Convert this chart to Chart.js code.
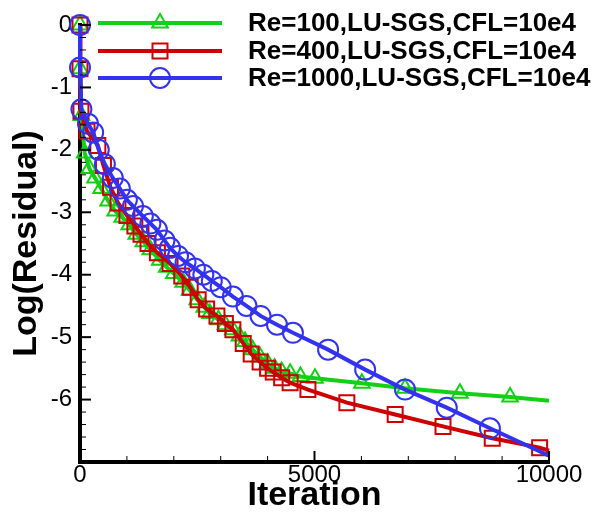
<!DOCTYPE html>
<html>
<head>
<meta charset="utf-8">
<script src="https://cdn.jsdelivr.net/npm/chart.js@4/dist/chart.umd.min.js"></script>
<style>
  html, body { margin: 0; padding: 0; background: #fff; }
  #wrap { width: 610px; height: 513px; position: relative; }
</style>
</head>
<body>
<div id="wrap"><canvas id="chart"></canvas></div>
<script>
// series data (iteration, log residual)
const seriesLabels = [
    "Re=100,LU-SGS,CFL=10e4",
    "Re=400,LU-SGS,CFL=10e4",
    "Re=1000,LU-SGS,CFL=10e4"
];

const re100Iter = [0, 0, 30, 100, 200, 320, 450, 600, 750, 900, 1050, 1200, 1350, 1500, 1700, 1850, 2000, 2200, 2340, 2500, 2650, 2770, 2950, 3100, 3260, 3400, 3520, 3680, 3840, 4000, 4150, 4300, 4480, 4700, 5010, 6010, 6930, 8100, 9170, 10000];
const re100Res = [0, -0.7, -1.45, -2.05, -2.3, -2.45, -2.62, -2.82, -2.98, -3.08, -3.2, -3.35, -3.47, -3.6, -3.77, -3.88, -3.98, -4.12, -4.25, -4.4, -4.52, -4.62, -4.72, -4.8, -4.88, -4.98, -5.07, -5.2, -5.32, -5.42, -5.5, -5.55, -5.58, -5.63, -5.66, -5.74, -5.82, -5.9, -5.96, -6.02];

const re400Iter = [0, 0, 20, 150, 380, 500, 650, 810, 1000, 1170, 1300, 1450, 1650, 1920, 2170, 2350, 2520, 2700, 2920, 3100, 3260, 3480, 3650, 3840, 4000, 4120, 4300, 4480, 4860, 5690, 6720, 7740, 8790, 9800, 10000];
const re400Res = [0, -0.7, -1.38, -1.7, -1.93, -2.25, -2.6, -2.85, -3.05, -3.22, -3.35, -3.5, -3.65, -3.82, -4.02, -4.2, -4.4, -4.55, -4.66, -4.78, -4.88, -5.1, -5.27, -5.4, -5.5, -5.56, -5.65, -5.73, -5.84, -6.05, -6.24, -6.43, -6.62, -6.77, -6.82];

const re1000Iter = [0, 0, 30, 170, 280, 400, 530, 700, 850, 1000, 1130, 1340, 1500, 1640, 1800, 1920, 2090, 2250, 2450, 2630, 2810, 3000, 3260, 3550, 3850, 4200, 4540, 5290, 6080, 6930, 7820, 8740, 10000];
const re1000Res = [0, -0.68, -1.35, -1.58, -1.72, -2.0, -2.23, -2.45, -2.62, -2.8, -2.9, -3.06, -3.18, -3.28, -3.45, -3.57, -3.7, -3.8, -3.9, -4.0, -4.1, -4.2, -4.35, -4.5, -4.66, -4.8, -4.93, -5.2, -5.52, -5.84, -6.13, -6.46, -6.9];

const xTicks = [0, 5000, 10000];
const yTicks = [0, -1, -2, -3, -4, -5, -6];

const FONT = '"Liberation Sans", Arial, sans-serif';
const GREEN = 'rgb(20,208,20)';
const RED = 'rgb(204,0,0)';
const BLUE = 'rgb(50,50,240)';

function toPoints(xs, ys) {
    return xs.map((x, i) => ({ x: x, y: ys[i] }));
}

// no marker on the last point of each curve (line end only)
function markerRadius(r) {
    return ctx => (ctx.dataIndex === ctx.dataset.data.length - 1 ? 0 : r);
}

function makeSet(label, xs, ys, color, style, r, order) {
    return {
        label: label,
        data: toPoints(xs, ys),
        borderColor: color,
        backgroundColor: 'rgba(0,0,0,0)',
        borderWidth: 4,
        pointStyle: style,
        pointRadius: markerRadius(r),
        pointBorderWidth: 2,
        pointBorderColor: color,
        pointBackgroundColor: 'rgba(0,0,0,0)',
        tension: 0,
        clip: false,
        order: order
    };
}

// inward major/minor ticks, Tecplot style
const inwardTicks = {
    id: 'inwardTicks',
    afterDraw(chart) {
        const ctx = chart.ctx;
        const xs = chart.scales.x, ys = chart.scales.y;
        const area = chart.chartArea;
        ctx.save();
        ctx.strokeStyle = '#000';
        for (let v = 0; v <= 10000; v += 1000) {
            const major = v % 5000 === 0;
            const px = xs.getPixelForValue(v);
            ctx.lineWidth = major ? 2 : 1;
            ctx.beginPath();
            ctx.moveTo(px, area.bottom);
            ctx.lineTo(px, area.bottom - (major ? 11 : 6));
            ctx.stroke();
        }
        for (let k = 0; k <= 35; k++) {
            const v = -k / 5;
            const major = k % 5 === 0;
            const py = ys.getPixelForValue(v);
            ctx.lineWidth = major ? 2 : 1;
            ctx.beginPath();
            ctx.moveTo(area.left, py);
            ctx.lineTo(area.left + (major ? 11 : 6), py);
            ctx.stroke();
        }
        ctx.restore();
    }
};

// legend: line with marker in the middle, then bold text
const lineLegend = {
    id: 'lineLegend',
    afterDraw(chart) {
        const ctx = chart.ctx;
        const rows = [23, 51, 78];
        ctx.save();
        chart.data.datasets.forEach((ds, i) => {
            const y = rows[i];
            ctx.strokeStyle = ds.borderColor;
            ctx.lineWidth = 4;
            ctx.beginPath();
            ctx.moveTo(98, y);
            ctx.lineTo(222, y);
            ctx.stroke();
            ctx.lineWidth = 2;
            ctx.fillStyle = 'rgba(0,0,0,0)';
            const r = ds.pointStyle === 'circle' ? 10 : (ds.pointStyle === 'rect' ? 10.6 : 9);
            Chart.helpers.drawPoint(ctx, { pointStyle: ds.pointStyle, radius: r, borderWidth: 2, rotation: 0 }, 160, y);
            ctx.fillStyle = '#000';
            ctx.font = 'bold 26px ' + FONT;
            ctx.textBaseline = 'middle';
            ctx.textAlign = 'left';
            ctx.fillText(ds.label, 248, y + 1);
        });
        ctx.restore();
    }
};

new Chart(document.getElementById('chart'), {
    type: 'line',
    data: {
        datasets: [
            makeSet(seriesLabels[0], re100Iter, re100Res, GREEN, 'triangle', 9, 3),
            makeSet(seriesLabels[1], re400Iter, re400Res, RED, 'rect', 10.6, 2),
            makeSet(seriesLabels[2], re1000Iter, re1000Res, BLUE, 'circle', 10, 1)
        ]
    },
    options: {
        responsive: true,
        maintainAspectRatio: false,
        animation: false,
        layout: { padding: { top: 25, right: 61, left: 0, bottom: 0 } },
        plugins: { legend: { display: false }, tooltip: { enabled: false } },
        scales: {
            x: {
                type: 'linear',
                min: 0,
                max: 10000,
                afterFit(scale) { scale.height = 51; },
                afterBuildTicks(scale) { scale.ticks = xTicks.map(v => ({ value: v })); },
                grid: { display: true, drawOnChartArea: false, drawTicks: false },
                border: { display: true, color: '#000', width: 4 },
                ticks: {
                    autoSkip: false,
                    maxRotation: 0,
                    padding: -1,
                    color: '#000',
                    font: { family: FONT, size: 24 },
                    callback: v => String(v)
                },
                title: {
                    display: true,
                    text: 'Iteration',
                    color: '#000',
                    font: { family: FONT, size: 34, weight: 'bold', lineHeight: 1 },
                    padding: { top: 0, bottom: 0 }
                }
            },
            y: {
                type: 'linear',
                min: -7,
                max: 0,
                afterFit(scale) { scale.width = 80; },
                afterBuildTicks(scale) { scale.ticks = yTicks.map(v => ({ value: v })); },
                grid: { display: true, drawOnChartArea: false, drawTicks: false },
                border: { display: true, color: '#000', width: 4 },
                ticks: {
                    padding: 8,
                    color: '#000',
                    font: { family: FONT, size: 24 },
                    callback: v => String(v)
                },
                title: {
                    display: true,
                    text: 'Log(Residual)',
                    color: '#000',
                    font: { family: FONT, size: 34, weight: 'bold', lineHeight: 1 },
                    padding: { top: 10, bottom: 0 }
                }
            }
        }
    },
    plugins: [inwardTicks, lineLegend]
});
</script>
</body>
</html>
